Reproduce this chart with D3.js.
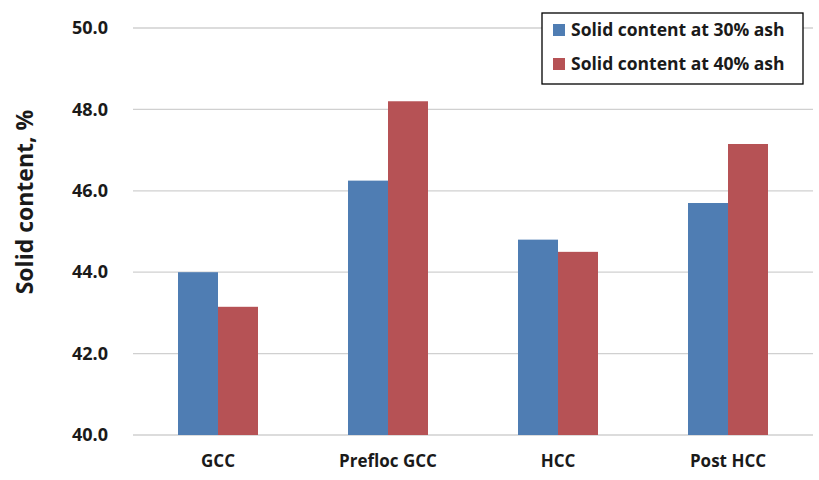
<!DOCTYPE html>
<html><head><meta charset="utf-8">
<script src="https://cdn.jsdelivr.net/npm/d3@7"></script>
<style>body{margin:0;background:#fff}text{font-family:"Open Sans",Calibri,sans-serif;font-weight:bold;fill:#1a1a1a}</style>
</head><body><svg id="c" width="819" height="480"></svg>
<script>
const categories = ["GCC", "Prefloc GCC", "HCC", "Post HCC"];
const series30 = [44.0, 46.25, 44.8, 45.7];
const series40 = [43.15, 48.2, 44.5, 47.15];
const seriesNames = ["Solid content at 30% ash", "Solid content at 40% ash"];
const yTicks = [40, 42, 44, 46, 48, 50];
const colors = ["#4F7DB3", "#B65255"];

const svg = d3.select("#c");
const L = 133, R = 813, T = 28, B = 435;
const x = d3.scaleBand().domain(categories).range([L, R]).padding(0);
const y = d3.scaleLinear().domain([40, 50]).range([B, T]);

// gridlines
svg.append("g").selectAll("line").data(yTicks).join("line")
  .attr("x1", L).attr("x2", R).attr("y1", d => y(d)).attr("y2", d => y(d))
  .attr("stroke", "#d0d0d0").attr("stroke-width", 1.3);

// y axis labels
const yAxis = d3.axisLeft(y).tickValues(yTicks).tickFormat(d3.format(".1f")).tickSize(0).tickPadding(0);
const gy = svg.append("g").attr("transform", `translate(108,0)`).call(yAxis);
gy.select(".domain").remove();
gy.selectAll("text").style("font-size", "18px").style("font-family", "'Open Sans',sans-serif").style("font-weight", "bold").attr("fill", "#1a1a1a");

// x axis labels
const xAxis = d3.axisBottom(x).tickSize(0).tickPadding(0);
const gx = svg.append("g").attr("transform", `translate(0,${B + 20})`).call(xAxis);
gx.select(".domain").remove();
gx.selectAll("text").style("font-size", "17px").style("font-family", "'Open Sans',sans-serif").style("font-weight", "bold").attr("fill", "#1a1a1a");

// bars
const bw = 40;
const data = categories.map((c, i) => ({c, vals: [series30[i], series40[i]]}));
const g = svg.append("g");
data.forEach(d => {
  d.vals.forEach((v, k) => {
    const cx = x(d.c) + x.bandwidth() / 2;
    g.append("rect")
      .attr("x", cx - bw + k * bw).attr("width", bw)
      .attr("y", y(v)).attr("height", y(40) - y(v))
      .attr("fill", colors[k]);
  });
});

// legend
const lg = svg.append("g");
lg.append("rect").attr("x", 542).attr("y", 13).attr("width", 261).attr("height", 71)
  .attr("fill", "#fff").attr("stroke", "#000").attr("stroke-width", 1.3);
seriesNames.forEach((n, i) => {
  const yy = 30 + i * 34;
  lg.append("rect").attr("x", 553).attr("y", yy - 6).attr("width", 12).attr("height", 12).attr("fill", colors[i]);
  lg.append("text").attr("x", 571).attr("y", yy).attr("dy", "0.35em").style("font-size", "17.5px").text(n);
});

// y title
svg.append("text").attr("transform", "translate(33,202) rotate(-90)")
  .attr("text-anchor", "middle").style("font-size", "23px").text("Solid content, %");
</script></body></html>
